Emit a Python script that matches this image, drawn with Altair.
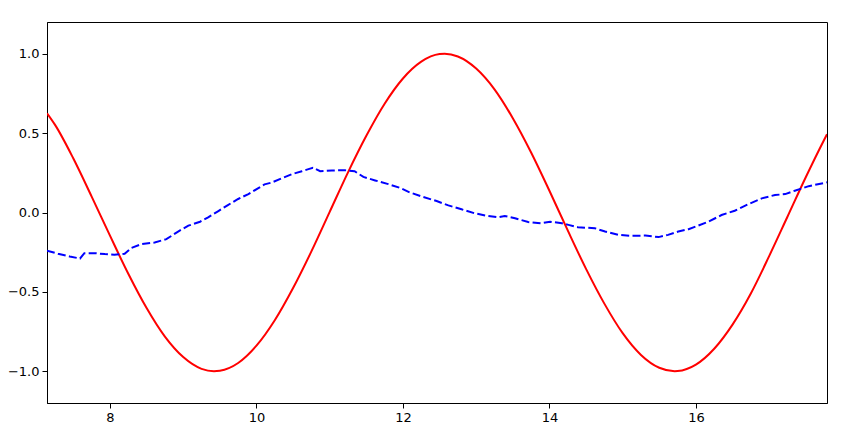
import altair as alt
import pandas as pd

# Red series (solid)
red_x = [7.14, 7.25, 7.5, 7.75, 8.0, 8.25, 8.5, 8.75, 9.0, 9.25, 9.42, 9.5, 9.75,
         10.0, 10.25, 10.5, 10.75, 11.0, 11.25, 11.5, 11.75, 12.0, 12.25, 12.5, 12.57,
         12.75, 13.0, 13.25, 13.5, 13.75, 14.0, 14.25, 14.5, 14.75, 15.0, 15.25, 15.5,
         15.71, 15.75, 16.0, 16.25, 16.5, 16.75, 17.0, 17.25, 17.5, 17.75, 17.79]
red_y = [0.625, 0.552, 0.340, 0.100, -0.146, -0.386, -0.602, -0.782, -0.911, -0.985, -1.0, -0.997, -0.948,
         -0.839, -0.679, -0.476, -0.245, 0.004, 0.253, 0.483, 0.685, 0.844, 0.950, 0.998, 1.0,
         0.983, 0.907, 0.776, 0.594, 0.378, 0.137, -0.113, -0.355, -0.574, -0.760, -0.897, -0.978,
         -1.0, -0.999, -0.958, -0.858, -0.706, -0.510, -0.275, -0.027, 0.222, 0.457, 0.493]

# Blue series (dashed)
blue_x = [7.14, 7.29, 7.45, 7.59, 7.65, 7.79, 7.93, 8.06, 8.20, 8.29, 8.43, 8.61, 8.77, 8.93,
          9.07, 9.23, 9.34, 9.48, 9.61, 9.75, 9.89, 10.02, 10.11, 10.21, 10.34, 10.48, 10.62,
          10.71, 10.77, 10.87, 11.03, 11.21, 11.34, 11.46, 11.62, 11.80, 11.96, 12.09, 12.25,
          12.46, 12.62, 12.80, 12.98, 13.16, 13.30, 13.39, 13.53, 13.71, 13.89, 14.01, 14.17,
          14.26, 14.39, 14.62, 14.76, 14.94, 15.12, 15.31, 15.49, 15.62, 15.76, 15.90, 16.03,
          16.17, 16.35, 16.53, 16.72, 16.90, 17.08, 17.22, 17.35, 17.54, 17.76, 17.79]
blue_y = [-0.240, -0.260, -0.277, -0.290, -0.256, -0.256, -0.262, -0.266, -0.260, -0.224, -0.199, -0.189, -0.168, -0.120,
          -0.083, -0.058, -0.030, 0.009, 0.047, 0.085, 0.116, 0.152, 0.177, 0.189, 0.214, 0.241, 0.260,
          0.273, 0.282, 0.260, 0.265, 0.266, 0.260, 0.224, 0.202, 0.179, 0.155, 0.127, 0.102,
          0.072, 0.045, 0.020, -0.005, -0.022, -0.030, -0.022, -0.036, -0.060, -0.068, -0.058, -0.068,
          -0.078, -0.093, -0.099, -0.120, -0.141, -0.147, -0.145, -0.155, -0.141, -0.120, -0.105, -0.083,
          -0.058, -0.016, 0.011, 0.053, 0.089, 0.110, 0.116, 0.137, 0.166, 0.187, 0.190]

x_ticks = [8, 10, 12, 14, 16]
y_ticks = [-1.0, -0.5, 0.0, 0.5, 1.0]

red_df = pd.DataFrame({"x": red_x, "y": red_y})
blue_df = pd.DataFrame({"x": blue_x, "y": blue_y})

xscale = alt.Scale(domain=[7.14, 17.79], nice=False, zero=False)
yscale = alt.Scale(domain=[-1.2, 1.2], nice=False, zero=False)

xaxis = alt.Axis(title="", values=x_ticks, format="d", grid=False, tickSize=5,
                 labelPadding=3, domainColor="black", tickColor="black")
yaxis = alt.Axis(title="", values=y_ticks, format=".1f", grid=False, tickSize=5,
                 labelPadding=3, domainColor="black", tickColor="black",
                 labelExpr="replace(datum.label, '-', '\u2212')")

red = alt.Chart(red_df).mark_line(color="#ff0000", strokeWidth=2, interpolate="monotone", clip=True).encode(
    x=alt.X("x:Q", scale=xscale, axis=xaxis),
    y=alt.Y("y:Q", scale=yscale, axis=yaxis),
)

blue = alt.Chart(blue_df).mark_line(color="#0000ff", strokeWidth=2, strokeDash=[8, 3.3], clip=True).encode(
    x=alt.X("x:Q", scale=xscale, axis=xaxis),
    y=alt.Y("y:Q", scale=yscale, axis=yaxis),
)

chart = alt.layer(red, blue).properties(
    width=780, height=381,
    padding={"left": 39, "top": 14, "right": 10, "bottom": 22},
    autosize=alt.AutoSizeParams(type="none"),
).configure_view(
    stroke="black", strokeWidth=1
).configure_axis(
    labelFont="DejaVu Sans", labelFontSize=13, labelColor="black"
)

chart.save("out.html", embed_options={"renderer": "svg", "actions": False})
